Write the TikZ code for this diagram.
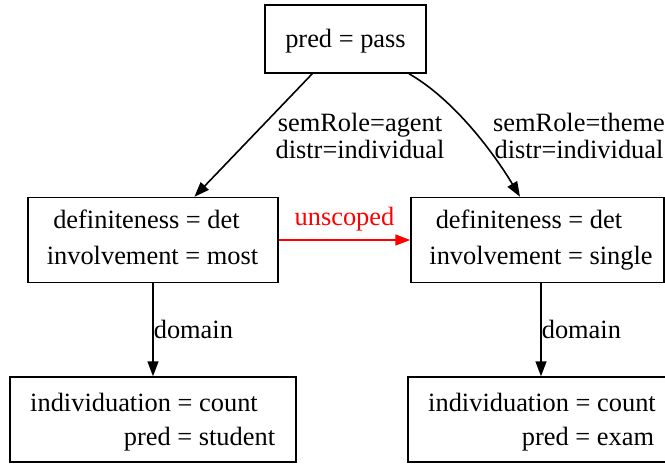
\documentclass[tikz,border=0pt]{standalone}
\usepackage{fontspec}
\setmainfont{Liberation Serif}
\usetikzlibrary{arrows.meta,calc}
\begin{document}
\begin{tikzpicture}[x=0.5pt,y=-0.5pt,
  box/.style={draw,line width=0.75pt,rectangle,inner sep=0pt},
  txt/.style={inner sep=0pt,anchor=base,font=\fontsize{13.2}{16}\selectfont},
  lbl/.style={inner sep=0pt,align=center,font=\fontsize{13.2}{13.5}\selectfont},
  edge/.style={line width=0.8pt,-{Triangle[length=7.5pt,width=5.5pt]}}]
\useasboundingbox (0,0) rectangle (665,463);

% boxes
\node[box,minimum width=80.5pt,minimum height=34pt]   (top) at (345.5,39)  {};
\node[box,minimum width=125pt,minimum height=42.5pt]  (ml)  at (153,240) {};
\node[box,minimum width=126.5pt,minimum height=42.5pt](mr)  at (537.5,240) {};
\node[box,minimum width=143pt,minimum height=42.5pt]  (bl)  at (153,419.5) {};
\node[box,minimum width=132pt,minimum height=42.5pt]  (br)  at (540,419.5) {};

% box contents
\node[txt] (t1) at (345.5,47) {pred = pass};
\node[txt] (l1) at (146.5,228) {definiteness = det};
\node[txt] (l2) at (152.5,264) {involvement = most};
\node[txt] (r1) at (529,228) {definiteness = det};
\node[txt] (r2) at (541,264) {involvement = single};
\node[txt] (b1) at (144,411) {individuation = count};
\node[txt] (b2) at (199.5,445) {pred = student};
\node[txt] (c1) at (542,411) {individuation = count};
\node[txt] (c2) at (588,445) {pred = exam};

% connectors
\draw[edge] (top) -- (ml);
\draw[edge] ($(top.south)+(63.5,0)$) .. controls (455,100) and (495,155) .. ($(mr.north)+(-17.5,0)$);
\draw[edge,red] (ml.east) -- (mr.west)
  node[midway,above=4pt,inner sep=0pt,font=\fontsize{13.2}{16}\selectfont] (us) {unscoped};
\draw[edge] (ml.south) -- (bl.north)
  node[midway,right=0pt,inner sep=0pt,font=\fontsize{13.2}{16}\selectfont] (d1) {domain};
\draw[edge] ($(mr.south)+(3.5,0)$) -- ($(br.north)+(1,0)$)
  node[midway,right=0pt,inner sep=0pt,font=\fontsize{13.2}{16}\selectfont] (d2) {domain};

% edge labels
\node[lbl] (la) at (360,135.5) {semRole=agent\\distr=individual};
\node[lbl] (lt) at (579,135.5) {semRole=theme\\distr=individual};
\end{tikzpicture}
\end{document}
